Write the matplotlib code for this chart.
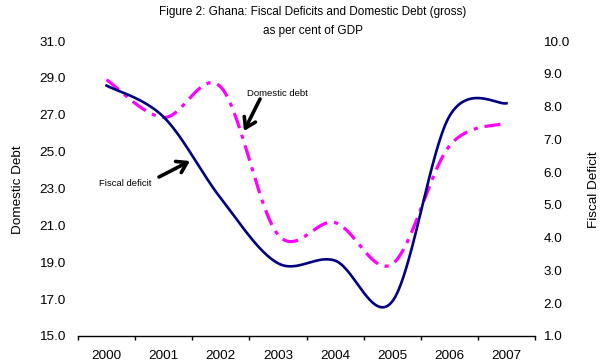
import numpy as np
import matplotlib
matplotlib.use("Agg")
import matplotlib.pyplot as plt

years = ["2000", "2001", "2002", "2003", "2004", "2005", "2006", "2007"]
domestic_debt = [28.9, 26.85, 28.5, 20.5, 21.15, 18.9, 25.3, 26.55]
fiscal_deficit = [8.64, 7.68, 5.2, 3.22, 3.30, 2.05, 7.7, 8.1]
left_ticks = [15.0, 17.0, 19.0, 21.0, 23.0, 25.0, 27.0, 29.0, 31.0]
right_ticks = [1.0, 2.0, 3.0, 4.0, 5.0, 6.0, 7.0, 8.0, 9.0, 10.0]

plt.rcParams['font.family'] = ['Liberation Sans', 'DejaVu Sans']
plt.rcParams['lines.scale_dashes'] = False

W, H = 601, 364
fig = plt.figure(figsize=(W / 100, H / 100), dpi=100)
ax = fig.add_axes([78 / W, 1 - 336 / H, (535 - 78) / W, (336 - 41) / H])
ax2 = ax.twinx()

x = np.arange(len(years))
ax.set_xlim(-0.5, len(years) - 0.5)
ax.set_ylim(left_ticks[0], left_ticks[-1])
ax2.set_ylim(right_ticks[0], right_ticks[-1])


def smooth_curve(axis, xs, ys, samples=60):
    """Catmull-Rom style Bezier smoothing computed in screen space."""
    trans = axis.transData
    pts = trans.transform(np.column_stack([xs, ys]).astype(float))
    m = len(pts)
    out = [pts[0]]
    tt = np.linspace(0, 1, samples)[1:, None]
    for i in range(m - 1):
        p0 = pts[i - 1] if i > 0 else pts[i]
        p1, p2 = pts[i], pts[i + 1]
        p3 = pts[i + 2] if i + 2 < m else pts[i + 1]
        c1 = p1 + (p2 - p0) / 6.0
        c2 = p2 - (p3 - p1) / 6.0
        seg = ((1 - tt) ** 3) * p1 + 3 * ((1 - tt) ** 2) * tt * c1 \
            + 3 * (1 - tt) * tt ** 2 * c2 + tt ** 3 * p2
        out.extend(seg)
    out = np.array(out)
    data = trans.inverted().transform(out)
    return data[:, 0], data[:, 1]


dx, dy = smooth_curve(ax, x, domestic_debt)
ax.plot(dx, dy, color='#FF00FF', lw=2.3,
        linestyle=(0, (11.5, 5.0, 3.0, 5.0)), dash_capstyle='butt', zorder=3)
fx, fy = smooth_curve(ax2, x, fiscal_deficit)
ax2.plot(fx, fy, color='#000080', lw=1.9, zorder=3)

# axes styling
for a in (ax, ax2):
    for s in ('left', 'right', 'top'):
        a.spines[s].set_visible(False)
ax2.spines['bottom'].set_visible(False)
ax.spines['bottom'].set_color('black')
ax.spines['bottom'].set_linewidth(1.0)

ax.set_xticks(np.arange(-0.5, len(years), 1.0))
ax.set_xticklabels([])
ax.set_xticks(x, minor=True)
ax.set_xticklabels(years, minor=True)
ax.tick_params(axis='x', which='major', direction='out', length=3, width=1, color='black')
ax.tick_params(axis='x', which='minor', length=0, pad=10, labelsize=9.7)

ax.set_yticks(left_ticks)
ax.set_yticklabels([f"{v:.1f}" for v in left_ticks])
ax.tick_params(axis='y', length=0, pad=9, labelsize=9.7)
ax2.set_yticks(right_ticks)
ax2.set_yticklabels([f"{v:.1f}" for v in right_ticks])
ax2.tick_params(axis='y', length=0, pad=6, labelsize=9.7)

fig.text(18 / W, 1 - 190 / H, "Domestic Debt", rotation=90, fontsize=9.7,
         ha='center', va='center')
fig.text(594 / W, 1 - 190 / H, "Fiscal Deficit", rotation=90, fontsize=9.7,
         ha='center', va='center')

fig.text(313 / W, 1 - 12 / H, "Figure 2: Ghana: Fiscal Deficits and Domestic Debt (gross)",
         fontsize=8.5, ha='center', va='center')
fig.text(313 / W, 1 - 31 / H, "as per cent of GDP", fontsize=8.5, ha='center', va='center')


def fp(px, py):
    return (px / W, 1 - py / H)


arrow = dict(arrowstyle='->, head_length=0.7, head_width=0.45', lw=2.6, color='black',
             shrinkA=0, shrinkB=0)
ax.annotate("", xy=fp(244, 131), xytext=fp(260, 99), xycoords='figure fraction',
            textcoords='figure fraction', arrowprops=arrow)
ax.annotate("", xy=fp(190, 161), xytext=fp(159, 177), xycoords='figure fraction',
            textcoords='figure fraction', arrowprops=arrow)
fig.text(277 / W, 1 - 94 / H, "Domestic debt", fontsize=6.8, ha='center', va='center')
fig.text(125 / W, 1 - 184 / H, "Fiscal deficit", fontsize=6.8, ha='center', va='center')

fig.savefig("out.png", dpi=100)
